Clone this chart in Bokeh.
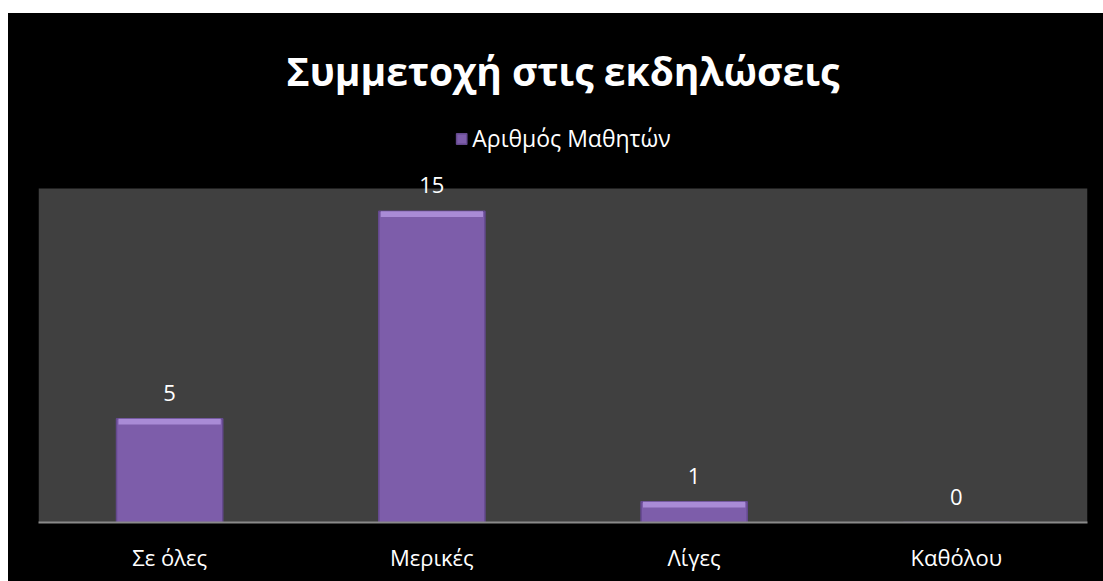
from bokeh.plotting import figure
from bokeh.models import ColumnDataSource, LabelSet, Legend, LegendItem, BoxAnnotation
from bokeh.core.properties import value
from bokeh.embed import file_html
from bokeh.resources import INLINE

categories = ["Σε όλες", "Μερικές", "Λίγες", "Καθόλου"]
students = [5, 15, 1, 0]
series_name = "Αριθμός Μαθητών"
title_text = "Συμμετοχή στις εκδηλώσεις"
axis_max = 16.1

FONT = "Open Sans"

src = ColumnDataSource(dict(
    cat=categories,
    val=students,
    lab=[str(v) for v in students],
    hl_bottom=[max(v - 0.28, 0) for v in students],
))

p = figure(x_range=categories, y_range=(0, 20.34), width=1095, height=568,
           output_backend="svg", toolbar_location=None,
           background_fill_color="black", border_fill_color="black",
           outline_line_color=None, outline_line_alpha=0,
           min_border_left=30, min_border_right=16, min_border_bottom=59, min_border_top=87)
p.margin = (13, 0, 0, 8)
p.styles = {"background-color": "black"}

p.title.text = title_text
p.title.text_color = "white"
p.title.text_font = FONT
p.title.text_font_size = "39px"
p.title.text_font_style = "bold"
p.title.align = "center"
p.title.standoff = 8

plot_area = BoxAnnotation(bottom=0, top=axis_max, fill_color="#404040", fill_alpha=1,
                          line_color=None, level="underlay")
p.add_layout(plot_area)

bars = p.vbar(x="cat", top="val", width=0.405, source=src,
              fill_color="#7D5DAA", line_color="#64498E", line_width=1.5)
p.vbar(x="cat", top="val", bottom="hl_bottom", width=0.39, source=src,
       fill_color="#A98BD6", line_color=None)

labels = LabelSet(x="cat", y="val", text="lab", source=src, text_align="center",
                  text_baseline="bottom", y_offset=18, text_color="white",
                  text_font=value(FONT), text_font_size="22px")
p.add_layout(labels)

legend = Legend(items=[LegendItem(label=series_name, renderers=[bars])],
                orientation="horizontal", location="top_center",
                background_fill_alpha=0, border_line_color=None,
                label_text_color="white", label_text_font=FONT,
                label_text_font_size="23px", glyph_width=13, glyph_height=13,
                label_standoff=5, margin=22, padding=4)
p.add_layout(legend)

p.yaxis.visible = False
p.xgrid.grid_line_color = None
p.ygrid.grid_line_color = None
p.xaxis.axis_line_color = "#8A8A8A"
p.xaxis.axis_line_width = 2
p.xaxis.major_tick_line_color = None
p.xaxis.minor_tick_line_color = None
p.xaxis.major_label_text_color = "white"
p.xaxis.major_label_text_font = FONT
p.xaxis.major_label_text_font_size = "22px"
p.xaxis.major_label_standoff = 13
p.x_range.range_padding = 0

open("out.html", "w").write(file_html(p, INLINE))
